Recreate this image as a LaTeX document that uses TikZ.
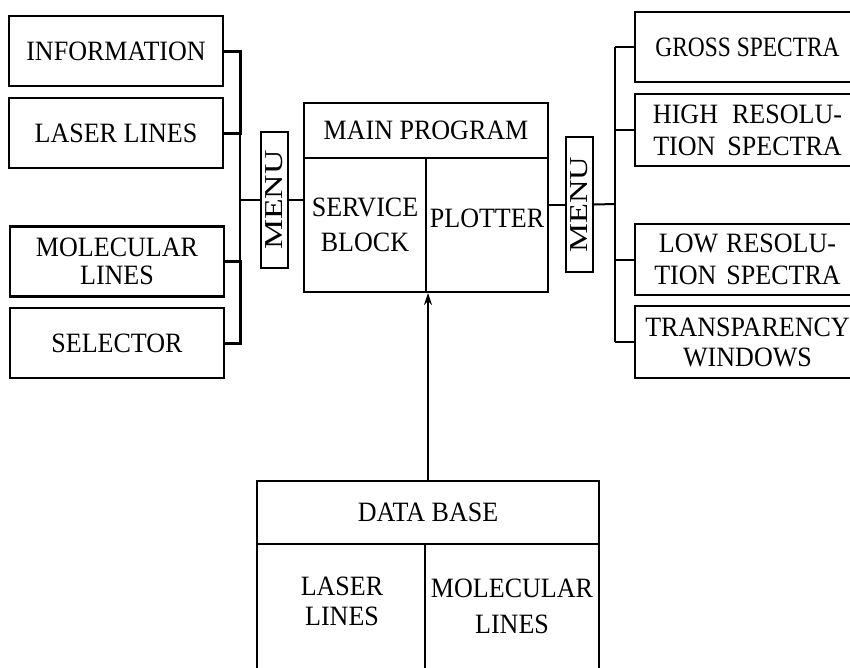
\documentclass[tikz,border=0pt]{standalone}
\usepackage{fontspec}
\setmainfont{Liberation Serif}[FakeStretch=0.93]
\usetikzlibrary{arrows.meta}
\begin{document}
\begin{tikzpicture}[x=1pt,y=-1pt,
  txt/.style={font=\fontsize{28}{28}\selectfont, align=center, inner sep=0pt},
  box/.style={txt, draw, line width=2.5pt, rectangle, minimum width=214pt, minimum height=70pt},
  rbox/.style={box, minimum width=225pt},
  part/.style={txt, draw, line width=2pt, rectangle},
  menubox/.style={txt, draw, line width=2.2pt, rectangle, minimum width=27pt, minimum height=136pt},
  thinline/.style={line width=1.5pt},
  rline/.style={line width=2pt},
  thickline/.style={line width=3pt},
  arr/.style={line width=1.6pt, -{Stealth[length=12pt,width=8pt]}}
]
\useasboundingbox (0,0) rectangle (850,667);
\clip (0,0) rectangle (850,667);

% left boxes
\node[box] (info) at (116,51) {INFORMATION};
\node[box] (laser) at (116,133) {LASER LINES};
\node[box] (mol) at (117,261.5) {MOLECULAR\\LINES};
\node[box] (sel) at (117,343) {SELECTOR};

% menus
\node[menubox] (menuL) at (274.5,200) {\rotatebox{90}{\scalebox{1.3}[0.92]{MENU}}};
\node[menubox, minimum height=135pt] (menuR) at (579.5,204.5) {\rotatebox{90}{\scalebox{1.25}[0.92]{MENU}}};

% main program
\node[part, minimum width=244pt, minimum height=55pt] (mainTop) at (426,130.5) {MAIN PROGRAM};
\node[part, minimum width=122pt, minimum height=134pt, font=\fontsize{28}{35}\selectfont] (service) at (365,225) {SERVICE\\BLOCK};
\node[part, minimum width=122pt, minimum height=134pt] (plotter) at (487,225) {\raisebox{14pt}{PLOTTER}};

% right boxes
\node[rbox] (gross) at (747.5,47) {\scalebox{0.9}[1]{GROSS SPECTRA}};
\node[rbox, minimum height=72pt, font=\fontsize{28}{32}\selectfont] (high) at (747.5,130) {HIGH\hspace{14pt}RESOLU-\\TION\hspace{12pt}SPECTRA};
\node[rbox, minimum height=71pt, font=\fontsize{28}{32}\selectfont] (low) at (747.5,259.5) {LOW\hspace{8pt}RESOLU-\\TION\hspace{10pt}SPECTRA};
\node[rbox, minimum height=72pt, font=\fontsize{28}{30}\selectfont] (transp) at (747.5,342) {TRANSPARENCY\\WINDOWS};

% data base
\node[part, line width=2.5pt, minimum width=342pt, minimum height=63pt] (dbTop) at (428,512.5) {DATA BASE};
\node[part, line width=2.5pt, minimum width=168pt, minimum height=146pt] (dbL) at (341,617) {};
\node[part, line width=2.5pt, minimum width=174pt, minimum height=146pt] (dbR) at (512,617) {};
\node[txt, font=\fontsize{28}{30}\selectfont] (dbLtext) at (342,601) {LASER\\LINES};
\node[txt, font=\fontsize{28}{36}\selectfont] (dbRtext) at (512,606) {MOLECULAR\\LINES};

% left connectors
\coordinate (sL) at (240,200);
\draw[thickline] (info.east) -- (info.east -| sL) -- (laser.east -| sL) -- (laser.east);
\draw[thinline] (laser.east -| sL) -- (mol.east -| sL);
\draw[thickline] (mol.east) -- (mol.east -| sL) -- (sel.east -| sL) -- (sel.east);
\draw[thinline] (sL) -- (menuL.west);
\draw[thinline] (menuL.east) -- (menuL.east -| service.west);

% right connectors
\coordinate (sR) at (615,204);
\draw[rline] (plotter.east |- menuR.west) -- (menuR.west);
\draw[rline] (menuR.east) -- (sR);
\draw[rline] (gross.west -| sR) -- (transp.west -| sR);
\draw[rline] (gross.west -| sR) -- (gross.west);
\draw[rline] (high.west -| sR) -- (high.west);
\draw[rline] (low.west -| sR) -- (low.west);
\draw[rline] (transp.west -| sR) -- (transp.west);

% arrow
\draw[arr] (dbTop.north) -- (dbTop.north |- service.south);
\end{tikzpicture}
\end{document}
